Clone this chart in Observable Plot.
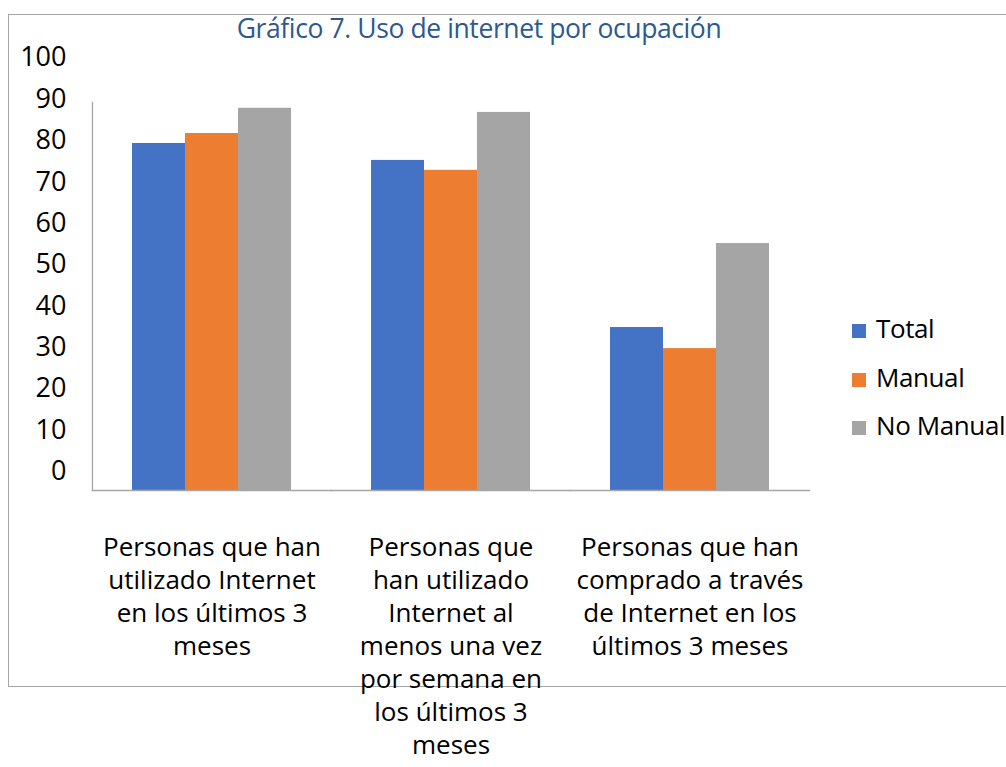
<!DOCTYPE html>
<html>
<head>
<meta charset="utf-8">
<script src="https://cdn.jsdelivr.net/npm/d3@7"></script>
<script src="https://cdn.jsdelivr.net/npm/@observablehq/plot@0.6"></script>
<style>
  body { margin: 0; background: #fff; font-family: "Open Sans", sans-serif; }
  #wrap { position: relative; width: 1006px; height: 767px; overflow: hidden; background: #fff; }
  #border { position: absolute; left: 8px; top: 14px; width: 1010px; height: 671px; border: 1px solid #a6a6a6; }
  #title { position: relative; box-sizing: border-box; height: 50px; padding-top: 15px; width: 958px;
           text-align: center; color: #2c5a8f; font-size: 26.5px; line-height: 26px; letter-spacing: -0.4px; }
  #chart { position: relative; }
  #legend { position: absolute; left: 852px; top: 307px; }
  .row { display: flex; align-items: center; height: 48.5px; }
  .sw { width: 14px; height: 14px; margin-right: 10px; }
  .lab { font-size: 26px; color: #000; position: relative; top: -3px; letter-spacing: -0.4px; white-space: nowrap; }
</style>
</head>
<body>
<div id="wrap">
  <div id="border"></div>
  <div id="title">Gráfico 7. Uso de internet por ocupación</div>
  <div id="chart"></div>
  <div id="legend"></div>
</div>
<script>
// ---- data ----
const categories = [
  "Personas que han\nutilizado Internet\nen los últimos 3\nmeses",
  "Personas que\nhan utilizado\nInternet al\nmenos una vez\npor semana en\nlos últimos 3\nmeses",
  "Personas que han\ncomprado a través\nde Internet en los\núltimos 3 meses"
];
const series = ["Total", "Manual", "No Manual"];
const totalValues = [79.3, 75.2, 34.8];
const manualValues = [81.7, 72.8, 29.7];
const noManualValues = [87.8, 86.8, 55.1];
const yTicks = [0, 10, 20, 30, 40, 50, 60, 70, 80, 90, 100];
const colors = ["#4472C4", "#ED7D31", "#A5A5A5"];

// ---- table ----
const valuesBySeries = [totalValues, manualValues, noManualValues];
const data = [];
categories.forEach((c, i) => {
  series.forEach((s, j) => data.push({category: c, series: s, value: valuesBySeries[j][i]}));
});

// scale domain (the plot area extends slightly below 0 as in the original)
const yDomain = [-4.6, 89.2];

const chart = Plot.plot({
  width: 1006,
  height: 717,
  marginLeft: 91,
  marginRight: 197,
  marginTop: 52,
  marginBottom: 277,
  style: {fontFamily: "Open Sans, sans-serif", fontSize: "26px", color: "#000", background: "transparent", overflow: "visible"},
  fx: {domain: categories, padding: 0, label: null},
  x: {domain: series, paddingInner: 0, paddingOuter: 0.72, axis: null},
  y: {domain: yDomain},
  color: {domain: series, range: colors},
  marks: [
    Plot.barY(data, {fx: "category", x: "series", y1: yDomain[0], y2: "value", fill: "series"}),
    Plot.frame({anchor: "bottom", stroke: "#a6a6a6", strokeWidth: 1.3}),
    Plot.frame({anchor: "left", facetAnchor: "left", stroke: "#a6a6a6", strokeWidth: 1.3}),
    Plot.axisY(yTicks, {tickSize: 0, tickPadding: 26, fontSize: 27, label: null, letterSpacing: -0.4}),
    Plot.axisFx({anchor: "bottom", tickSize: 0, tickPadding: 42, fontSize: 26, lineHeight: 1.27, label: null, letterSpacing: -0.4})
  ]
});
document.getElementById("chart").appendChild(chart);

// ---- legend ----
const legend = document.getElementById("legend");
series.forEach((s, i) => {
  const row = document.createElement("div");
  row.className = "row";
  const sw = document.createElement("div");
  sw.className = "sw";
  sw.style.background = colors[i];
  const lab = document.createElement("span");
  lab.className = "lab";
  lab.textContent = s;
  row.appendChild(sw);
  row.appendChild(lab);
  legend.appendChild(row);
});
</script>
</body>
</html>
